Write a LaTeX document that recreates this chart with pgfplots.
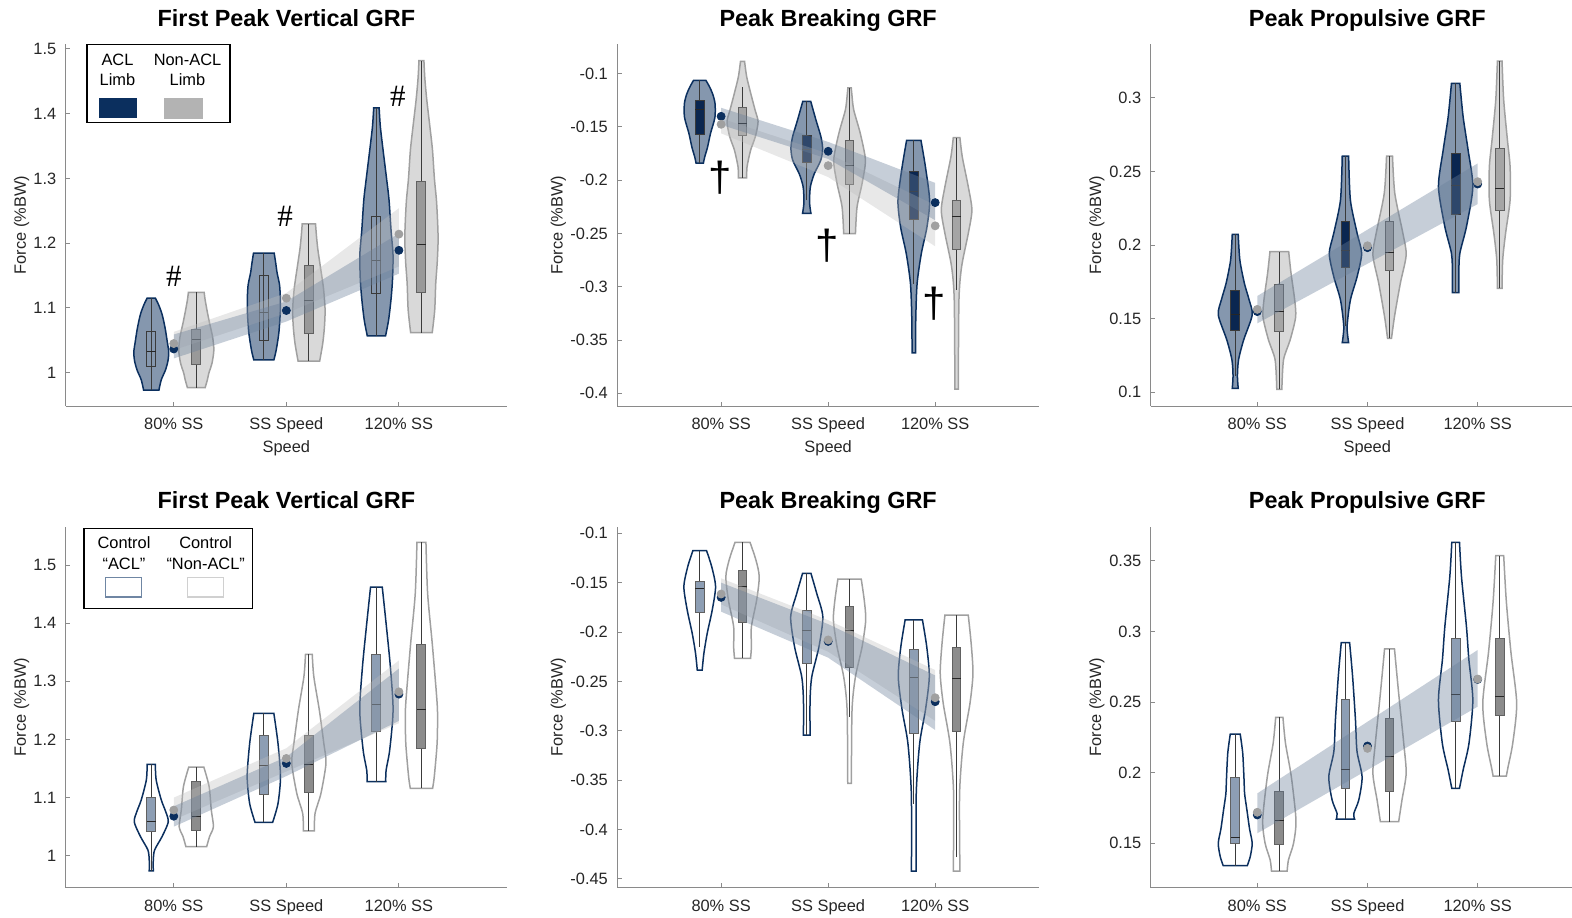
\documentclass[border=0pt]{standalone}
\usepackage{pgfplots}
\pgfplotsset{compat=1.18}
\usepgfplotslibrary{fillbetween}
\usepackage{fontspec}
\setmainfont{Liberation Sans}
\newfontfamily\serifglyph{Liberation Serif}

\definecolor{navy}{HTML}{0B2F5E}
\definecolor{navybox}{HTML}{0A2650}
\definecolor{gfill}{HTML}{B3B3B3}
\definecolor{gedge}{HTML}{A0A0A0}
\definecolor{axgray}{HTML}{8A8A8A}
\definecolor{tgray}{HTML}{262626}
\definecolor{bandb}{HTML}{6A7F99}
\definecolor{bandg}{HTML}{BDBDBD}
\definecolor{bedge}{HTML}{3A3A3A}
\definecolor{gbox1}{HTML}{999999}
\definecolor{gbox2}{HTML}{A5A5A5}
\definecolor{abox3}{HTML}{8D9EB4}
\definecolor{gbox3}{HTML}{8C8C8C}
\definecolor{legA}{HTML}{6F86A3}
\definecolor{legB}{HTML}{D0D0D0}

\pgfplotsset{
  pan/.style={
    scale only axis, anchor=north west,
    axis x line*=bottom, axis y line*=left,
    axis line style={draw=axgray, line width=0.5pt},
    tick style={draw=axgray, line width=0.5pt},
    major tick length=2.2pt,
    xtick={1,2,3}, xticklabels={80\% SS, SS Speed, 120\% SS},
    tick label style={font=\fontsize{8.2}{9.5}\selectfont, text=tgray},
    xticklabel style={yshift=-2.5pt},
    yticklabel style={xshift=-1.2pt},
    ylabel={Force (\%BW)},
    label style={font=\fontsize{8.2}{9.5}\selectfont, text=tgray},
    xlabel style={anchor=center}, ylabel style={anchor=center},
    title style={font=\bfseries\fontsize{11.7}{14}\selectfont, anchor=base, yshift=3pt},
    /pgf/number format/assume math mode=true,
    scaled y ticks=false, clip=false,
  },
  vA/.style={fill=navy, fill opacity=0.5, draw=navy, line width=0.75pt},
  vB/.style={fill=gfill, fill opacity=0.5, draw=gedge, line width=0.75pt},
  vAo/.style={fill=white, draw=navy, line width=0.75pt},
  vBo/.style={fill=white, draw=gedge, line width=0.75pt},
  bA1/.style={draw=bedge, line width=0.5pt},
  bB1/.style={fill=gbox1, draw=bedge!80, line width=0.5pt},
  bA2/.style={fill=navybox, draw=bedge, line width=0.5pt},
  bB2/.style={fill=gbox2, draw=bedge!80, line width=0.5pt},
  bA3/.style={fill=abox3, draw=bedge!80, line width=0.5pt},
  bB3/.style={fill=gbox3, draw=bedge!80, line width=0.5pt},
  whisk/.style={draw=bedge, line width=0.45pt},
  medline/.style={draw=black!85, line width=0.5pt},
  bandB/.style={fill=bandb, fill opacity=0.38, draw=none},
  bandG/.style={fill=bandg, fill opacity=0.35, draw=none},
  dotA/.style={only marks, mark=*, mark size=2pt, mark options={fill=navy, draw=navy}},
  dotB/.style={only marks, mark=*, mark size=2pt, mark options={fill=gedge, draw=gedge}},
}

\newcounter{vio}
% violin: #1 centre, #2 style, #3 list of y/halfwidth, bottom to top
\newcommand{\violin}[3]{%
  \stepcounter{vio}%
  \gdef\vR{}\gdef\vL{}%
  \foreach \yy/\ww in {#3}{%
    \pgfmathsetmacro\xr{#1+\ww}\pgfmathsetmacro\xl{#1-\ww}%
    \xdef\vR{\vR(\xr,\yy)}\xdef\vL{\vL(\xl,\yy)}}%
  \edef\vtmp{%
    \noexpand\addplot[draw=none, smooth, tension=0.45, name path=vr\arabic{vio}] coordinates {\vR};%
    \noexpand\addplot[draw=none, smooth, tension=0.45, name path=vl\arabic{vio}] coordinates {\vL};%
    \noexpand\addplot[\unexpanded{#2}] fill between[of=vr\arabic{vio} and vl\arabic{vio}, reverse=true];}%
  \vtmp}
% box: #1 centre, #2 style, #3 lo, #4 q1, #5 median, #6 q3, #7 hi
\newcommand{\bx}[7]{%
  \pgfmathsetmacro\xa{#1-0.04}\pgfmathsetmacro\xb{#1+0.04}%
  \edef\vtmp{%
    \noexpand\addplot[whisk] coordinates {(#1,#3)(#1,#7)};%
    \noexpand\addplot[\unexpanded{#2}] coordinates {(\xa,#4)(\xb,#4)(\xb,#6)(\xa,#6)} -- cycle;%
    \noexpand\addplot[medline] coordinates {(\xa,#5)(\xb,#5)};}%
  \vtmp}

\begin{document}
\begin{tikzpicture}

% ---------------- Panel 1 ----------------
\begin{axis}[pan, at={(32.85pt,-22.2pt)}, width=220.65pt, height=180.8pt,
  xmin=0.04, xmax=3.96, ymin=0.9485, ymax=1.507,
  ytick={1,1.1,1.2,1.3,1.4,1.5},
  title={First Peak Vertical GRF}, title style={at={(0.5,1)}},
  xlabel={Speed}, xlabel style={at={(axis description cs:0.5,-0.116)}},
  ylabel style={at={(axis description cs:-0.0997,0.5)}}]
\violin{0.8}{vA}{0.973/0.068, 0.989/0.089, 1.004/0.126, 1.018/0.148, 1.032/0.155, 1.048/0.142, 1.066/0.126, 1.08/0.11, 1.092/0.093, 1.105/0.065, 1.115/0.037}
\bx{0.8}{bA1}{0.973}{1.010}{1.0325}{1.063}{1.115}
\violin{1.2}{vB}{0.977/0.079, 0.99/0.1, 0.999/0.111, 1.015/0.14, 1.035/0.156, 1.055/0.145, 1.075/0.12, 1.092/0.1, 1.112/0.079, 1.124/0.07}
\bx{1.2}{bB1}{0.977}{1.013}{1.0505}{1.067}{1.124}
\violin{1.8}{vA}{1.0196/0.089, 1.035/0.11, 1.061/0.133, 1.09/0.145, 1.112/0.147, 1.135/0.14, 1.154/0.118, 1.17/0.105, 1.1845/0.092}
\bx{1.8}{bA1}{1.0196}{1.0495}{1.0928}{1.1495}{1.1845}
\violin{2.2}{vB}{1.018/0.096, 1.045/0.123, 1.07/0.138, 1.097/0.144, 1.13/0.13, 1.164/0.102, 1.19/0.08, 1.21/0.068, 1.23/0.059}
\bx{2.2}{bB1}{1.018}{1.061}{1.111}{1.1655}{1.23}
\violin{2.8}{vA}{1.0567/0.081, 1.081/0.108, 1.112/0.129, 1.14/0.142, 1.174/0.148, 1.19/0.145, 1.22/0.13, 1.267/0.112, 1.3/0.09, 1.344/0.059, 1.38/0.035, 1.409/0.024}
\bx{2.8}{bA1}{1.0567}{1.122}{1.174}{1.241}{1.409}
\violin{3.2}{vB}{1.062/0.096, 1.097/0.118, 1.138/0.127, 1.17/0.14, 1.205/0.148, 1.235/0.143, 1.267/0.133, 1.3/0.115, 1.344/0.098, 1.38/0.075, 1.422/0.047, 1.455/0.03, 1.482/0.022}
\bx{3.2}{bB1}{1.062}{1.124}{1.198}{1.295}{1.482}
\addplot[bandG] coordinates {(1,1.035)(2,1.092)(3,1.164)(3,1.254)(2,1.123)(1,1.063)} -- cycle;
\addplot[bandB] coordinates {(1,1.022)(2,1.079)(3,1.153)(3,1.215)(2,1.11)(1,1.059)} -- cycle;
\addplot[dotA] coordinates {(1,1.0366)(2,1.096)(3,1.189)};
\addplot[dotB] coordinates {(1,1.045)(2,1.115)(3,1.214)};
\node[font=\serifglyph\fontsize{15.5}{16}\selectfont] at (axis cs:1,1.148) {\#};
\node[font=\serifglyph\fontsize{15.5}{16}\selectfont] at (axis cs:1.99,1.242) {\#};
\node[font=\serifglyph\fontsize{15.5}{16}\selectfont] at (axis cs:2.99,1.427) {\#};
\end{axis}

% ---------------- Panel 2 ----------------
\begin{axis}[pan, at={(308.65pt,-22.2pt)}, width=210.85pt, height=180.8pt,
  xmin=0.03, xmax=3.97, ymin=-0.4119, ymax=-0.0725,
  ytick={-0.4,-0.35,-0.3,-0.25,-0.2,-0.15,-0.1},
  title={Peak Breaking GRF}, title style={at={(0.5,1)}},
  xlabel={Speed}, xlabel style={at={(axis description cs:0.5,-0.116)}},
  ylabel style={at={(axis description cs:-0.14,0.5)}}]
\violin{0.8}{vA}{-0.184/0.034, -0.178/0.047, -0.169/0.073, -0.156/0.101, -0.141/0.142, -0.128/0.143, -0.119/0.121, -0.112/0.09, -0.10625/0.058}
\bx{0.8}{bA2}{-0.184}{-0.1575}{-0.1334}{-0.125}{-0.10625}
\violin{1.2}{vB}{-0.1978/0.039, -0.1875/0.042, -0.172/0.075, -0.159/0.12, -0.145/0.145, -0.134/0.117, -0.119/0.078, -0.103/0.039, -0.0884/0.019}
\bx{1.2}{bB2}{-0.1978}{-0.1584}{-0.1469}{-0.1319}{-0.1125}
\violin{1.8}{vA}{-0.231/0.039, -0.225/0.03, -0.219/0.026, -0.206/0.034, -0.194/0.07, -0.181/0.132, -0.170/0.148, -0.159/0.132, -0.1438/0.087, -0.1259/0.037}
\bx{1.8}{bA2}{-0.219}{-0.1834}{-0.171}{-0.1578}{-0.1259}
\violin{2.2}{vB}{-0.25/0.055, -0.225/0.07, -0.203/0.117, -0.181/0.148, -0.156/0.1, -0.134/0.039, -0.12/0.022, -0.1134/0.016}
\bx{2.2}{bB2}{-0.25}{-0.2038}{-0.186}{-0.163}{-0.1134}
\violin{2.8}{vA}{-0.362/0.016, -0.328/0.019, -0.297/0.031, -0.269/0.07, -0.244/0.123, -0.219/0.148, -0.1875/0.109, -0.1625/0.067}
\bx{2.8}{bA2}{-0.297}{-0.237}{-0.211}{-0.192}{-0.1625}
\violin{3.2}{vB}{-0.396/0.016, -0.3125/0.022, -0.281/0.047, -0.25/0.109, -0.228/0.143, -0.206/0.109, -0.178/0.053, -0.16/0.031}
\bx{3.2}{bB2}{-0.303}{-0.265}{-0.234}{-0.219}{-0.16}
\addplot[bandG] coordinates {(1,-0.156)(2,-0.197)(3,-0.262)(3,-0.2234)(2,-0.175)(1,-0.142)} -- cycle;
\addplot[bandB] coordinates {(1,-0.148)(2,-0.18)(3,-0.2375)(3,-0.2025)(2,-0.164)(1,-0.132)} -- cycle;
\addplot[dotA] coordinates {(1,-0.140)(2,-0.1728)(3,-0.221)};
\addplot[dotB] coordinates {(1,-0.1475)(2,-0.1863)(3,-0.2428)};
\node[font=\fontsize{21}{21}\selectfont] at (axis cs:0.99,-0.198) {†};
\node[font=\fontsize{21}{21}\selectfont] at (axis cs:1.99,-0.261) {†};
\node[font=\fontsize{21}{21}\selectfont] at (axis cs:2.99,-0.316) {†};
\end{axis}

% ---------------- Panel 3 ----------------
\begin{axis}[pan, at={(575.35pt,-22.2pt)}, width=210.65pt, height=180.8pt,
  xmin=0.033, xmax=3.856, ymin=0.0907, ymax=0.3362,
  ytick={0.1,0.15,0.2,0.25,0.3},
  title={Peak Propulsive GRF}, title style={at={(0.514,1)}},
  xlabel={Speed}, xlabel style={at={(axis description cs:0.514,-0.116)}},
  ylabel style={at={(axis description cs:-0.128,0.5)}}]
\violin{0.8}{vA}{0.1027/0.027, 0.111/0.02, 0.122/0.03, 0.1355/0.076, 0.1525/0.154, 0.163/0.125, 0.174/0.083, 0.1898/0.042, 0.2072/0.027}
\bx{0.8}{bA2}{0.111}{0.1423}{0.1525}{0.169}{0.2072}
\violin{1.2}{vB}{0.102/0.023, 0.122/0.038, 0.1355/0.098, 0.151/0.148, 0.163/0.139, 0.181/0.106, 0.1955/0.085}
\bx{1.2}{bB2}{0.102}{0.1412}{0.1552}{0.1729}{0.1955}
\violin{1.8}{vA}{0.1337/0.029, 0.1446/0.015, 0.1627/0.045, 0.1785/0.106, 0.1943/0.147, 0.208/0.106, 0.2305/0.045, 0.2604/0.029}
\bx{1.8}{bA2}{0.145}{0.1848}{0.1962}{0.2158}{0.2604}
\violin{2.2}{vB}{0.1367/0.018, 0.1514/0.045, 0.174/0.098, 0.1932/0.151, 0.208/0.121, 0.235/0.048, 0.2604/0.027}
\bx{2.2}{bB2}{0.1367}{0.183}{0.1948}{0.2158}{0.2604}
\violin{2.8}{vA}{0.1676/0.03, 0.1808/0.029, 0.1943/0.038, 0.2124/0.098, 0.2396/0.156, 0.2645/0.113, 0.287/0.068, 0.3097/0.038}
\bx{2.8}{bA2}{0.1676}{0.2208}{0.2403}{0.2618}{0.3097}
\violin{3.2}{vB}{0.1706/0.021, 0.19/0.027, 0.2079/0.053, 0.2305/0.094, 0.2532/0.094, 0.2712/0.07, 0.2984/0.036, 0.3249/0.021}
\bx{3.2}{bB2}{0.1706}{0.2231}{0.2385}{0.2656}{0.3249}
\addplot[bandB] coordinates {(1,0.1468)(2,0.1873)(3,0.2278)(3,0.2554)(2,0.2104)(1,0.1654)} -- cycle;
\addplot[dotA] coordinates {(1,0.1548)(2,0.1982)(3,0.2414)};
\addplot[dotB] coordinates {(1,0.1563)(2,0.1995)(3,0.243)};
\end{axis}

% ---------------- Panel 4 ----------------
\begin{axis}[pan, at={(32.85pt,-263.35pt)}, width=220.65pt, height=180.5pt,
  xmin=0.04, xmax=3.96, ymin=0.945, ymax=1.566,
  ytick={1,1.1,1.2,1.3,1.4,1.5},
  title={First Peak Vertical GRF}, title style={at={(0.5,1)}},
  ylabel style={at={(axis description cs:-0.0997,0.5)}}]
\violin{0.8}{vAo}{0.974/0.018, 0.993/0.018, 1.01/0.03, 1.033/0.096, 1.058/0.151, 1.075/0.13, 1.096/0.089, 1.13/0.044, 1.157/0.036}
\bx{0.8}{bA3}{0.974}{1.0424}{1.0585}{1.1003}{1.157}
\violin{1.2}{vBo}{1.0155/0.092, 1.033/0.118, 1.05/0.152, 1.079/0.133, 1.119/0.114, 1.1525/0.067}
\bx{1.2}{bB3}{1.0155}{1.044}{1.068}{1.127}{1.1525}
\violin{1.8}{vAo}{1.0573/0.078, 1.09/0.126, 1.136/0.148, 1.193/0.126, 1.2448/0.089}
\bx{1.8}{bA3}{1.0573}{1.106}{1.156}{1.2064}{1.2448}
\violin{2.2}{vBo}{1.043/0.049, 1.073/0.055, 1.107/0.107, 1.159/0.152, 1.193/0.133, 1.2506/0.093, 1.308/0.044, 1.3463/0.03}
\bx{2.2}{bB3}{1.043}{1.108}{1.1577}{1.2064}{1.3463}
\violin{2.8}{vAo}{1.1273/0.083, 1.147/0.086, 1.1818/0.118, 1.2506/0.148, 1.325/0.124, 1.394/0.089, 1.4622/0.052}
\bx{2.8}{bA3}{1.1273}{1.2133}{1.2603}{1.3463}{1.4622}
\violin{3.2}{vBo}{1.1158/0.099, 1.136/0.114, 1.193/0.139, 1.245/0.143, 1.279/0.133, 1.365/0.096, 1.451/0.055, 1.539/0.04}
\bx{3.2}{bB3}{1.1158}{1.1846}{1.2517}{1.3635}{1.539}
\addplot[bandG] coordinates {(1,1.062)(2,1.145)(3,1.228)(3,1.336)(2,1.185)(1,1.1)} -- cycle;
\addplot[bandB] coordinates {(1,1.05)(2,1.137)(3,1.232)(3,1.322)(2,1.17)(1,1.085)} -- cycle;
\addplot[dotA] coordinates {(1,1.068)(2,1.1588)(3,1.278)};
\addplot[dotB] coordinates {(1,1.0786)(2,1.1674)(3,1.282)};
\end{axis}

% ---------------- Panel 5 ----------------
\begin{axis}[pan, at={(308.65pt,-263.35pt)}, width=210.85pt, height=180.5pt,
  xmin=0.03, xmax=3.97, ymin=-0.4591, ymax=-0.0933,
  ytick={-0.45,-0.4,-0.35,-0.3,-0.25,-0.2,-0.15,-0.1},
  title={Peak Breaking GRF}, title style={at={(0.5,1)}},
  ylabel style={at={(axis description cs:-0.14,0.5)}}]
\violin{0.8}{vAo}{-0.2385/0.023, -0.2216/0.039, -0.2014/0.07, -0.1777/0.117, -0.154/0.148, -0.1338/0.112, -0.1176/0.064}
\bx{0.8}{bA3}{-0.215}{-0.1804}{-0.1557}{-0.149}{-0.1176}
\violin{1.2}{vBo}{-0.2267/0.075, -0.2149/0.083, -0.1946/0.083, -0.1676/0.132, -0.144/0.156, -0.127/0.125, -0.1091/0.07}
\bx{1.2}{bB3}{-0.2267}{-0.19}{-0.1534}{-0.1378}{-0.1091}
\violin{1.8}{vAo}{-0.3044/0.031, -0.269/0.031, -0.2453/0.047, -0.2149/0.114, -0.1845/0.15, -0.1608/0.093, -0.1405/0.039}
\bx{1.8}{bA3}{-0.3044}{-0.2324}{-0.198}{-0.1787}{-0.1405}
\violin{2.2}{vBo}{-0.3534/0.017, -0.279/0.023, -0.2453/0.055, -0.2149/0.117, -0.1878/0.151, -0.1676/0.137, -0.1463/0.109}
\bx{2.2}{bB3}{-0.286}{-0.2358}{-0.198}{-0.1743}{-0.1463}
\violin{2.8}{vAo}{-0.4422/0.022, -0.3635/0.023, -0.3128/0.055, -0.279/0.109, -0.2453/0.145, -0.2149/0.121, -0.1878/0.081}
\bx{2.8}{bA3}{-0.374}{-0.3027}{-0.2459}{-0.2176}{-0.1878}
\violin{3.2}{vBo}{-0.4422/0.031, -0.3635/0.028, -0.3128/0.062, -0.2723/0.125, -0.2419/0.153, -0.2115/0.136, -0.1828/0.109}
\bx{3.2}{bB3}{-0.428}{-0.301}{-0.247}{-0.2159}{-0.1828}
\addplot[bandG] coordinates {(1,-0.172)(2,-0.22)(3,-0.29)(3,-0.2385)(2,-0.188)(1,-0.1456)} -- cycle;
\addplot[bandB] coordinates {(1,-0.1794)(2,-0.226)(3,-0.2993)(3,-0.244)(2,-0.192)(1,-0.150)} -- cycle;
\addplot[dotA] coordinates {(1,-0.1649)(2,-0.2095)(3,-0.2706)};
\addplot[dotB] coordinates {(1,-0.1615)(2,-0.208)(3,-0.2666)};
\end{axis}

% ---------------- Panel 6 ----------------
\begin{axis}[pan, at={(575.35pt,-263.35pt)}, width=210.65pt, height=180.5pt,
  xmin=0.033, xmax=3.856, ymin=0.1183, ymax=0.3743,
  ytick={0.15,0.2,0.25,0.3,0.35},
  title={Peak Propulsive GRF}, title style={at={(0.514,1)}},
  ylabel style={at={(axis description cs:-0.128,0.5)}}]
\violin{0.8}{vAo}{0.1339/0.109, 0.1403/0.136, 0.1498/0.154, 0.16/0.13, 0.1734/0.106, 0.185/0.085, 0.1947/0.08, 0.2136/0.068, 0.2273/0.045}
\bx{0.8}{bA3}{0.1339}{0.1498}{0.1538}{0.1966}{0.2273}
\violin{1.2}{vBo}{0.1301/0.071, 0.138/0.083, 0.1498/0.129, 0.1663/0.151, 0.197/0.109, 0.2207/0.056, 0.2391/0.033}
\bx{1.2}{bB3}{0.1301}{0.1486}{0.1658}{0.1864}{0.2391}
\violin{1.8}{vAo}{0.167/0.083, 0.171/0.076, 0.1805/0.121, 0.197/0.151, 0.215/0.105, 0.2372/0.091, 0.268/0.065, 0.2921/0.038}
\bx{1.8}{bA3}{0.167}{0.1888}{0.2022}{0.2519}{0.2921}
\violin{2.2}{vBo}{0.1651/0.083, 0.1805/0.113, 0.1994/0.151, 0.2207/0.129, 0.2561/0.083, 0.2876/0.045}
\bx{2.2}{bB3}{0.1651}{0.1864}{0.2112}{0.2384}{0.2876}
\violin{2.8}{vAo}{0.1888/0.035, 0.2018/0.068, 0.2207/0.121, 0.2514/0.156, 0.28/0.12, 0.3035/0.098, 0.3389/0.053, 0.3632/0.035}
\bx{2.8}{bA3}{0.1888}{0.2361}{0.2554}{0.2947}{0.3632}
\violin{3.2}{vBo}{0.1975/0.06, 0.2041/0.076, 0.2207/0.118, 0.2491/0.154, 0.2858/0.101, 0.3212/0.06, 0.3538/0.036}
\bx{3.2}{bB3}{0.1975}{0.2403}{0.2538}{0.2952}{0.3538}
\addplot[bandB] coordinates {(1,0.1569)(2,0.2018)(3,0.2467)(3,0.2869)(2,0.2360)(1,0.1852)} -- cycle;
\addplot[dotA] coordinates {(1,0.1699)(2,0.2188)(3,0.266)};
\addplot[dotB] coordinates {(1,0.1718)(2,0.2171)(3,0.2663)};
\end{axis}

% ---------------- Legends ----------------
\begin{scope}[every node/.style={font=\fontsize{8.2}{9.5}\selectfont, anchor=base, inner sep=0pt}]
\draw[black, line width=0.6pt, fill=white] (43.5pt,-22.1pt) rectangle (115pt,-61.25pt);
\node at (58.75pt,-32.75pt) {ACL};
\node at (58.75pt,-42.75pt) {Limb};
\node at (93.75pt,-32.75pt) {Non-ACL};
\node at (93.75pt,-42.75pt) {Limb};
\fill[navy] (49.65pt,-49.15pt) rectangle (68.35pt,-59.15pt);
\fill[gfill] (82.15pt,-48.75pt) rectangle (101.35pt,-59.5pt);

\draw[black, line width=0.6pt, fill=white] (42pt,-264.15pt) rectangle (126.15pt,-304.15pt);
\node at (62pt,-274.15pt) {Control};
\node at (62pt,-284.5pt) {“ACL”};
\node at (102.85pt,-274.15pt) {Control};
\node at (102.85pt,-284.5pt) {“Non-ACL”};
\draw[legA, line width=0.6pt] (52.65pt,-288.65pt) rectangle (70.65pt,-298.5pt);
\draw[legB, line width=0.6pt] (93.85pt,-288.65pt) rectangle (111.65pt,-298.5pt);
\end{scope}

\pgfresetboundingbox
\path[use as bounding box] (0,0) rectangle (786pt,-458.5pt);
\end{tikzpicture}
\end{document}
